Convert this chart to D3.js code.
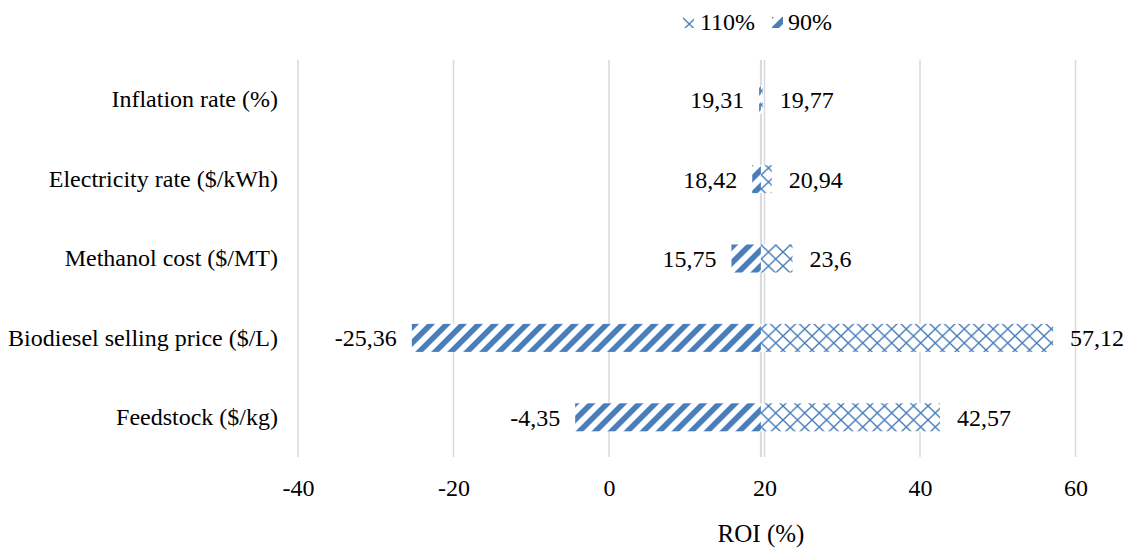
<!DOCTYPE html>
<html>
<head>
<meta charset="utf-8">
<script src="https://cdn.jsdelivr.net/npm/d3@7"></script>
<style>
  html, body { margin: 0; padding: 0; background: #fff; }
  svg text { font-family: "Liberation Serif", "Times New Roman", serif; fill: #000; }
</style>
</head>
<body>
<svg id="chart" width="1130" height="549"></svg>
<script>
// Sensitivity of ROI (%) to a ±10% change in each input parameter
const categories = [
  "Inflation rate (%)",
  "Electricity rate ($/kWh)",
  "Methanol cost ($/MT)",
  "Biodiesel selling price ($/L)",
  "Feedstock ($/kg)"
];
const roi90  = [19.31, 18.42, 15.75, -25.36, -4.35];
const roi110 = [19.77, 20.94, 23.6, 57.12, 42.57];
const baseROI = 19.54;
const xTicks = [-40, -20, 0, 20, 40, 60];
const seriesNames = ["110%", "90%"];

const svg = d3.select("#chart");
const blue = "#4a7ebb";
const fontSize = 24;

// Fill patterns: diamond lattice for 110%, wide upward diagonal for 90%
const defs = svg.append("defs");
function addLattice(id, ox, oy) {
  const p = defs.append("pattern")
    .attr("id", id)
    .attr("patternUnits", "userSpaceOnUse")
    .attr("x", ox).attr("y", oy)
    .attr("width", 14.5).attr("height", 14);
  p.append("rect").attr("width", 14.5).attr("height", 14).attr("fill", "#fff");
  p.append("path")
    .attr("d", "M0,0L14.5,14M14.5,0L0,14")
    .attr("stroke", blue).attr("stroke-width", 1.4).attr("fill", "none");
}
addLattice("lattice", 0, 0);
addLattice("latticeKey", 682, 17);

const stripes = defs.append("pattern")
  .attr("id", "stripes")
  .attr("patternUnits", "userSpaceOnUse")
  .attr("width", 11.3).attr("height", 11.3)
  .attr("patternTransform", "rotate(45)");
stripes.append("rect").attr("width", 11.3).attr("height", 11.3).attr("fill", "#fff");
stripes.append("rect").attr("width", 5.6).attr("height", 11.3).attr("fill", blue);

// Scales
const x = d3.scaleLinear().domain([-40, 60]).range([298, 1075.5]);
const y = d3.scaleBand().domain(categories).range([60, 457])
  .paddingInner(0.647).paddingOuter(0.3235);

// Vertical gridlines
svg.append("g").selectAll("line").data(xTicks).join("line")
  .attr("x1", d => x(d)).attr("x2", d => x(d))
  .attr("y1", 60).attr("y2", 457)
  .attr("stroke", "#d9d9d9").attr("stroke-width", 1.5);

// Category axis crossing at the base-case ROI
svg.append("line")
  .attr("x1", x(baseROI)).attr("x2", x(baseROI))
  .attr("y1", 60).attr("y2", 457)
  .attr("stroke", "#d9d9d9").attr("stroke-width", 2);

// X axis tick labels
const xAxis = d3.axisBottom(x).tickValues(xTicks).tickSize(0).tickPadding(0)
  .tickFormat(d => String(d));
const gx = svg.append("g").attr("transform", "translate(0,481)").call(xAxis);
gx.select(".domain").remove();
gx.selectAll("text")
  .attr("font-size", fontSize).attr("dy", "0.35em").attr("y", 7);

// Y axis category labels
const yAxis = d3.axisLeft(y).tickSize(0).tickPadding(0);
const gy = svg.append("g").attr("transform", "translate(278,0)").call(yAxis);
gy.select(".domain").remove();
gy.selectAll("text").attr("font-size", fontSize);

// Bars
const rows = categories.map((c, i) => ({ c, lo: roi90[i], hi: roi110[i] }));
svg.append("g").selectAll("rect").data(rows).join("rect")
  .attr("x", d => x(Math.min(d.lo, baseROI)))
  .attr("width", d => Math.abs(x(baseROI) - x(d.lo)))
  .attr("y", d => y(d.c)).attr("height", y.bandwidth())
  .attr("fill", "url(#stripes)");
svg.append("g").selectAll("rect").data(rows).join("rect")
  .attr("x", d => x(baseROI))
  .attr("width", d => Math.abs(x(d.hi) - x(baseROI)))
  .attr("y", d => y(d.c)).attr("height", y.bandwidth())
  .attr("fill", "url(#lattice)");

// Value labels
const fmt = v => String(v).replace(".", ",");
svg.append("g").selectAll("text").data(rows).join("text")
  .attr("x", d => x(Math.min(d.lo, baseROI)) - 15)
  .attr("y", d => y(d.c) + y.bandwidth() / 2)
  .attr("dy", "0.35em").attr("text-anchor", "end")
  .attr("font-size", fontSize)
  .text(d => fmt(d.lo));
svg.append("g").selectAll("text").data(rows).join("text")
  .attr("x", d => x(Math.max(d.hi, baseROI)) + 17)
  .attr("y", d => y(d.c) + y.bandwidth() / 2)
  .attr("dy", "0.35em").attr("text-anchor", "start")
  .attr("font-size", fontSize)
  .text(d => fmt(d.hi));

// Axis title
svg.append("text")
  .attr("x", 761).attr("y", 533).attr("dy", "0.35em")
  .attr("text-anchor", "middle").attr("font-size", 25)
  .text("ROI (%)");

// Legend
const legend = svg.append("g");
const legendItems = [
  { name: seriesNames[0], fill: "url(#latticeKey)", sx: 683, tx: 700 },
  { name: seriesNames[1], fill: "url(#stripes)", sx: 772, tx: 788 }
];
legend.selectAll("rect").data(legendItems).join("rect")
  .attr("x", d => d.sx).attr("y", 17).attr("width", 11).attr("height", 11)
  .attr("fill", d => d.fill);
legend.selectAll("text").data(legendItems).join("text")
  .attr("x", d => d.tx).attr("y", 22).attr("dy", "0.35em")
  .attr("font-size", fontSize)
  .text(d => d.name);
</script>
</body>
</html>
